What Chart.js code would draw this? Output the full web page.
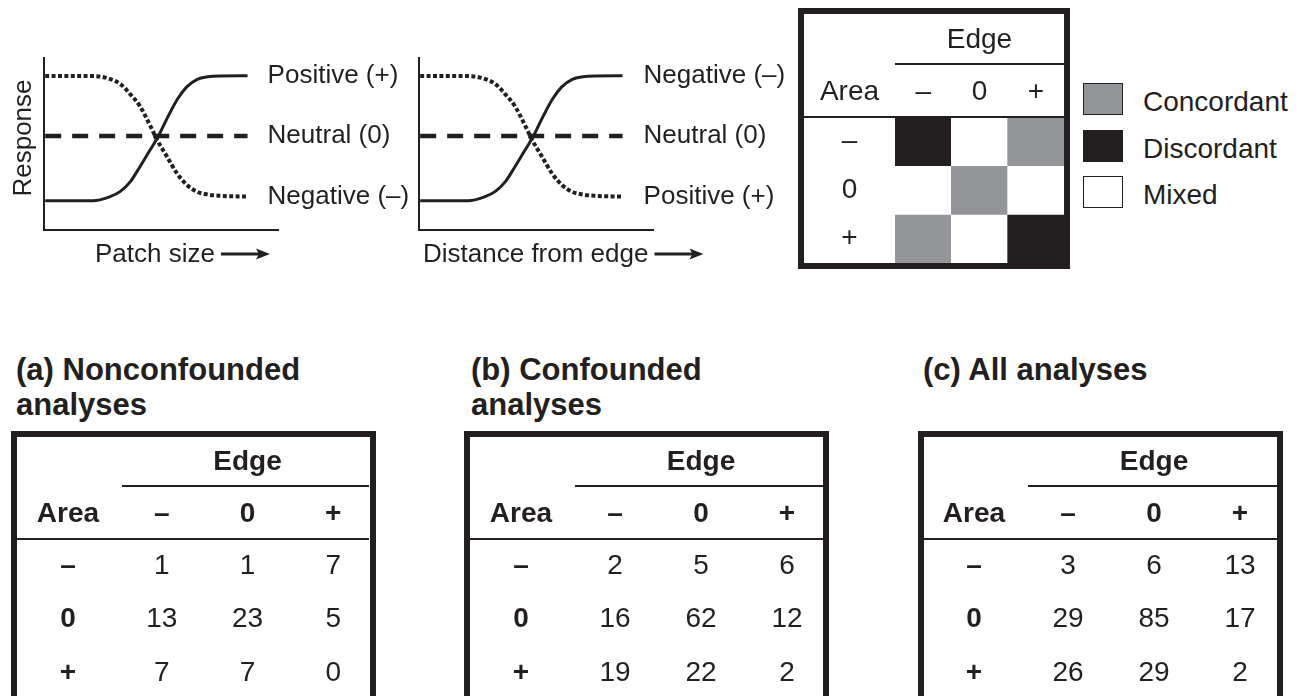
<!DOCTYPE html>
<html>
<head>
<meta charset="utf-8">
<script src="https://cdn.jsdelivr.net/npm/chart.js@4.4.1/dist/chart.umd.min.js"></script>
<style>
  html, body { margin: 0; padding: 0; background: #ffffff; }
  body {
    width: 1302px; height: 696px; position: relative; overflow: hidden;
    font-family: "Liberation Sans", Arial, Helvetica, sans-serif; color: #231f20;
  }
  canvas { position: absolute; }
  .box { position: absolute; border: 6px solid #231f20; box-sizing: border-box; }
  .title { position: absolute; font-weight: bold; font-size: 31px; line-height: 35px; white-space: nowrap; }
  .legend-item { position: absolute; left: 1083px; width: 200px; height: 40px; }
  .swatch { position: absolute; left: 0; top: 0; width: 40px; height: 32px; box-sizing: border-box; border: 1.5px solid #231f20; }
  .legend-text { position: absolute; left: 60px; top: 3px; font-size: 28px; line-height: 32px; white-space: nowrap; }
</style>
</head>
<body>
  <canvas id="patchChart" width="415" height="240" style="left:0px; top:40px;"></canvas>
  <canvas id="edgeChart" width="400" height="240" style="left:400px; top:40px;"></canvas>

  <div class="box" style="left:798px; top:8px; width:272px; height:261px;"></div>
  <canvas id="schemeChart" width="260" height="249" style="left:804px; top:14px;"></canvas>
  <div id="legend"></div>

  <div class="title" style="left:16px; top:352px;">(a) Nonconfounded<br>analyses</div>
  <div class="title" style="left:471px; top:352px;">(b) Confounded<br>analyses</div>
  <div class="title" style="left:923px; top:352px;">(c) All analyses</div>

  <div class="box" style="left:11px; top:431px; width:365px; height:320px;"></div>
  <div class="box" style="left:464px; top:431px; width:365px; height:320px;"></div>
  <div class="box" style="left:918px; top:431px; width:365px; height:320px;"></div>
  <canvas id="tableA" width="359" height="263" style="left:17px; top:437px;"></canvas>
  <canvas id="tableB" width="360" height="263" style="left:470px; top:437px;"></canvas>
  <canvas id="tableC" width="360" height="263" style="left:923px; top:437px;"></canvas>

<script>
// ---- Data ---------------------------------------------------------------
// Conceptual response curves, in axis units (0–100 on both axes)
const curvePositions  = [0.5, 21, 28, 32.5, 37, 41, 45, 48.5, 52.5, 57, 61, 65.5, 70, 75, 87];
const risingResponse  = [17.0, 17.0, 19.3, 22.3, 28.3, 36.8, 45.8, 53.6, 64.6, 76.0, 83.2, 87.6, 89.1, 89.6, 89.7];
const fallingResponse = [89.5, 89.5, 87.9, 85.0, 78.7, 72.0, 61.7, 52.0, 42.8, 32.6, 26.3, 22.2, 20.6, 19.9, 19.4];
const neutralPositions = [0.5, 87];
const neutralResponse  = [54.7, 54.7];

// Curve end labels: [rising, flat, falling]
const patchCurveLabels = ['Positive (+)', 'Neutral (0)', 'Negative (–)'];
const edgeCurveLabels  = ['Negative (–)', 'Neutral (0)', 'Positive (+)'];

// Response categories for the cross-tabulations
const edgeLevels = ['–', '0', '+'];
const areaLevels = ['–', '0', '+'];

// Agreement between area and edge responses
const agreementClasses = ['Concordant', 'Discordant', 'Mixed'];
const agreementMatrix = [
  ['Discordant', 'Mixed',      'Concordant'],
  ['Mixed',      'Concordant', 'Mixed'],
  ['Concordant', 'Mixed',      'Discordant']
];

// Number of analyses per area (rows) × edge (columns) response
const nonconfoundedCounts = [[1, 1, 7], [13, 23, 5], [7, 7, 0]];
const confoundedCounts    = [[2, 5, 6], [16, 62, 12], [19, 22, 2]];
const allCounts           = [[3, 6, 13], [29, 85, 17], [26, 29, 2]];

// ---- Styling ------------------------------------------------------------
const ink = '#231f20';
const family = '"Liberation Sans", Arial, Helvetica, sans-serif';
const agreementColors = { Concordant: '#939598', Discordant: ink, Mixed: '#ffffff' };

Chart.defaults.font.family = family;
Chart.defaults.color = ink;

const toPoints = (xs, ys) => xs.map((x, i) => ({ x, y: ys[i] }));

// Fixed axis box sizes, without the label overhang padding Chart.js reserves
const fixHeight = h => s => { s.height = h; s.paddingLeft = 0; s.paddingRight = 0; s.paddingTop = 0; s.paddingBottom = 0; };
const fixWidth  = w => s => { s.width = w; s.paddingLeft = 0; s.paddingRight = 0; s.paddingTop = 0; s.paddingBottom = 0; };

// End labels, axis captions and the direction arrow of the response panels
const curveAnnotations = {
  id: 'curveAnnotations',
  afterDatasetsDraw(chart, args, o) {
    const { ctx, chartArea: a } = chart;
    ctx.save();
    ctx.fillStyle = ink;
    ctx.strokeStyle = ink;
    ctx.font = '26px ' + family;
    ctx.textAlign = 'left';
    ctx.textBaseline = 'middle';
    chart.data.datasets.forEach((ds, i) => {
      const pts = chart.getDatasetMeta(i).data;
      const end = pts[pts.length - 1];
      ctx.fillText(ds.label, end.x + o.labelGap, end.y);
    });

    ctx.textBaseline = 'alphabetic';
    const tx = a.left + o.xCaptionInset;
    const ty = a.bottom + 32;
    ctx.fillText(o.xCaption, tx, ty);
    const x0 = tx + ctx.measureText(o.xCaption).width + 6;
    const x1 = x0 + 49;
    const ay = ty - 8;
    ctx.lineWidth = 3;
    ctx.beginPath();
    ctx.moveTo(x0, ay);
    ctx.lineTo(x1 - 10, ay);
    ctx.stroke();
    ctx.beginPath();
    ctx.moveTo(x1, ay);
    ctx.lineTo(x1 - 14, ay - 5.5);
    ctx.lineTo(x1 - 11, ay);
    ctx.lineTo(x1 - 14, ay + 5.5);
    ctx.closePath();
    ctx.fill();

    if (o.yCaption) {
      ctx.translate(a.left - 13, a.top + 80);
      ctx.rotate(-Math.PI / 2);
      ctx.textAlign = 'center';
      ctx.fillText(o.yCaption, 0, 0);
    }
    ctx.restore();
  }
};

function responseChart(id, labels, padding, annotations) {
  const axis = {
    type: 'linear', min: 0, max: 100,
    ticks: { display: false },
    grid: { display: false, drawTicks: false },
    border: { display: true, color: ink, width: 2 }
  };
  return new Chart(document.getElementById(id), {
    type: 'line',
    data: {
      datasets: [
        { label: labels[0], data: toPoints(curvePositions, risingResponse),
          borderColor: ink, borderWidth: 3 },
        { label: labels[1], data: toPoints(neutralPositions, neutralResponse),
          borderColor: ink, borderWidth: 4.5, borderDash: [16, 11] },
        { label: labels[2], data: toPoints(curvePositions, fallingResponse),
          borderColor: ink, borderWidth: 4, borderDash: [4, 2.4] }
      ]
    },
    options: {
      responsive: false, animation: false, events: [],
      layout: { padding },
      elements: {
        point: { radius: 0 },
        line: { cubicInterpolationMode: 'monotone', borderCapStyle: 'butt', fill: false }
      },
      plugins: { legend: { display: false }, tooltip: { enabled: false }, curveAnnotations: annotations },
      scales: { x: { ...axis }, y: { ...axis } }
    },
    plugins: [curveAnnotations]
  });
}

responseChart('patchChart', patchCurveLabels,
  { left: 44, top: 18, right: 137, bottom: 50 },
  { labelGap: 20, xCaption: 'Patch size', xCaptionInset: 51, yCaption: 'Response' });

responseChart('edgeChart', edgeCurveLabels,
  { left: 19, top: 18, right: 147, bottom: 50 },
  { labelGap: 21, xCaption: 'Distance from edge', xCaptionInset: 4, yCaption: '' });

// Header rules, "Edge"/"Area" headings and cell counts of the cross-tabulations
const tableFrame = {
  id: 'tableFrame',
  afterDraw(chart, args, o) {
    const { ctx, chartArea: a } = chart;
    const xs = chart.scales.x;
    ctx.save();
    ctx.strokeStyle = ink;
    ctx.fillStyle = ink;
    ctx.lineWidth = 2;
    ctx.beginPath();
    ctx.moveTo(a.left + o.ruleInset, a.top - 53);
    ctx.lineTo(o.innerWidth, a.top - 53);
    ctx.moveTo(0, a.top);
    ctx.lineTo(o.innerWidth, a.top);
    ctx.stroke();

    ctx.font = (o.bold ? 'bold ' : '') + '28px ' + family;
    ctx.textAlign = 'center';
    ctx.textBaseline = 'middle';
    ctx.fillText(o.columnTitle, xs.getPixelForTick(1), a.top - 77);
    ctx.fillText(o.rowTitle, a.left / 2, a.top - 24.5);

    if (o.showCounts) {
      ctx.font = '28px ' + family;
      chart.data.datasets.forEach((ds, i) => {
        chart.getDatasetMeta(i).data.forEach((pt, k) => {
          ctx.fillText(String(ds.data[k].n), pt.x, pt.y);
        });
      });
    }
    ctx.restore();
  }
};

// Classification scheme: floating bars fill each area × edge cell
new Chart(document.getElementById('schemeChart'), {
  type: 'bar',
  data: {
    labels: edgeLevels,
    datasets: areaLevels.map((area, r) => ({
      label: area,
      data: edgeLevels.map(() => [r, r + 1]),
      backgroundColor: agreementMatrix[r].map(c => agreementColors[c]),
      borderWidth: 0,
      grouped: false,
      barPercentage: 1,
      categoryPercentage: 1
    }))
  },
  options: {
    responsive: false, animation: false, events: [],
    plugins: {
      legend: { display: false }, tooltip: { enabled: false },
      tableFrame: { innerWidth: 260, ruleInset: 0, columnTitle: 'Edge', rowTitle: 'Area', bold: false, showCounts: false }
    },
    scales: {
      x: {
        position: 'top', offset: true,
        grid: { display: false, drawTicks: false }, border: { display: false },
        ticks: { font: { size: 28 }, padding: 7.7, autoSkip: false, maxRotation: 0 },
        afterFit: fixHeight(103)
      },
      y: {
        min: 0, max: 3, reverse: true,
        grid: { display: false, drawTicks: false }, border: { display: false },
        afterBuildTicks: s => { s.ticks = areaLevels.map((_, i) => ({ value: i + 0.5 })); },
        ticks: { font: { size: 28 }, crossAlign: 'center', padding: 37.3, autoSkip: false,
                 callback: (v, i) => areaLevels[i] },
        afterFit: fixWidth(91)
      }
    }
  },
  plugins: [tableFrame]
});

// Legend for the scheme
const legendEl = document.getElementById('legend');
agreementClasses.forEach((name, i) => {
  const item = document.createElement('div');
  item.className = 'legend-item';
  item.style.top = (83 + i * 46.7) + 'px';
  const sw = document.createElement('div');
  sw.className = 'swatch';
  sw.style.background = agreementColors[name];
  const tx = document.createElement('div');
  tx.className = 'legend-text';
  tx.textContent = name;
  item.appendChild(sw);
  item.appendChild(tx);
  legendEl.appendChild(item);
});

// Count tables: one point per cell on category scales, labelled with its count
function countTable(id, counts, innerWidth) {
  return new Chart(document.getElementById(id), {
    type: 'scatter',
    data: {
      datasets: [{
        data: counts.flatMap((row, r) => row.map((n, c) => ({ x: edgeLevels[c], y: areaLevels[r], n }))),
        pointRadius: 0
      }]
    },
    options: {
      responsive: false, animation: false, events: [],
      plugins: {
        legend: { display: false }, tooltip: { enabled: false },
        tableFrame: { innerWidth, ruleInset: 3, columnTitle: 'Edge', rowTitle: 'Area', bold: true, showCounts: true }
      },
      scales: {
        x: {
          type: 'category', labels: edgeLevels, position: 'top', offset: true,
          grid: { display: false, drawTicks: false }, border: { display: false },
          ticks: { font: { size: 28, weight: 'bold' }, padding: 7.7, autoSkip: false, maxRotation: 0 },
          afterFit: fixHeight(102)
        },
        y: {
          type: 'category', labels: areaLevels, offset: true,
          grid: { display: false, drawTicks: false }, border: { display: false },
          ticks: { font: { size: 28, weight: 'bold' }, crossAlign: 'center', padding: 42.8, autoSkip: false },
          afterFit: fixWidth(102)
        }
      }
    },
    plugins: [tableFrame]
  });
}

countTable('tableA', nonconfoundedCounts, 352);
countTable('tableB', confoundedCounts, 353);
countTable('tableC', allCounts, 354);
</script>
</body>
</html>
